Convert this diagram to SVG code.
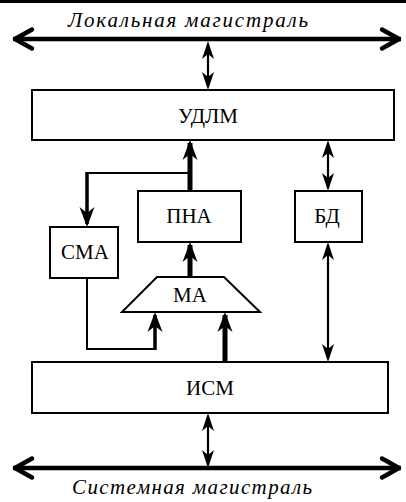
<svg xmlns="http://www.w3.org/2000/svg" width="406" height="502" viewBox="0 0 406 502">
<defs>
<style>
.box{fill:#fff;stroke:#000;stroke-width:2}
.lbl{font-family:"Liberation Serif","DejaVu Serif","Times New Roman",serif;font-size:21px;fill:#000;text-anchor:middle}
.bus{font-family:"Liberation Serif","DejaVu Serif","Times New Roman",serif;font-size:21px;font-style:italic;fill:#000;text-anchor:middle}
.thin{fill:none;stroke:#000;stroke-width:2}
.dbl{fill:none;stroke:#000;stroke-width:2.2}
.thick{fill:none;stroke:#000;stroke-width:5}
.med{fill:none;stroke:#000;stroke-width:3.5}
.busl{fill:none;stroke:#000;stroke-width:4.5}
</style>
<marker id="hThin" viewBox="-22 -8 24 16" markerWidth="24" markerHeight="16" refX="-3" refY="0" orient="auto-start-reverse" markerUnits="userSpaceOnUse">
<path d="M0,0 L-18,-6 L-13,0 L-18,6 Z" fill="#000"/>
</marker>
<marker id="hThick" viewBox="-24 -10 26 20" markerWidth="26" markerHeight="20" refX="-3" refY="0" orient="auto-start-reverse" markerUnits="userSpaceOnUse">
<path d="M0,0 L-20,-7.5 L-14,0 L-20,7.5 Z" fill="#000"/>
</marker>
<marker id="hChev" viewBox="-26 -14 30 28" markerWidth="30" markerHeight="28" refX="0" refY="0" orient="auto-start-reverse" markerUnits="userSpaceOnUse">
<path d="M-19,-9.5 L-2,0 L-19,9.5" fill="none" stroke="#000" stroke-width="4.5" stroke-linejoin="round" stroke-linecap="round"/>
</marker>
</defs>
<rect x="0" y="0" width="406" height="3" fill="#000"/>

<g id="local-bus">
<line class="busl" x1="13" y1="39" x2="401" y2="39" marker-start="url(#hChev)" marker-end="url(#hChev)"/>
<text class="bus" x="188" y="27" textLength="240" lengthAdjust="spacing">Локальная магистраль</text>
</g>
<g id="system-bus">
<line class="busl" x1="13" y1="468" x2="401" y2="468" marker-start="url(#hChev)" marker-end="url(#hChev)"/>
<text class="bus" x="192" y="494" textLength="240" lengthAdjust="spacing">Системная магистраль</text>
</g>

<g id="UDLM"><rect class="box" x="32" y="90" width="362" height="50"/><text class="lbl" x="208" y="123">УДЛМ</text></g>
<g id="PNA"><rect class="box" x="138" y="191" width="103" height="51"/><text class="lbl" x="189" y="223">ПНА</text></g>
<g id="BD"><rect class="box" x="295" y="191" width="67" height="51"/><text class="lbl" x="327" y="223">БД</text></g>
<g id="SMA"><rect class="box" x="50" y="227" width="68" height="51"/><text class="lbl" x="85" y="259">СМА</text></g>
<g id="MA"><polygon class="box" points="157,277 224,277 260,312 122,312"/><text class="lbl" x="190" y="302">МА</text></g>
<g id="ISM"><rect class="box" x="32" y="362" width="356" height="51"/><text class="lbl" x="210" y="395">ИСМ</text></g>

<g id="connectors">
<line class="dbl" x1="208" y1="44" x2="208" y2="87" marker-start="url(#hThin)" marker-end="url(#hThin)"/>
<line class="thick" x1="190" y1="192" x2="190" y2="143" marker-end="url(#hThick)"/>
<polyline class="thin" points="190,173 87,173"/>
<line class="med" x1="87" y1="172" x2="87" y2="224" marker-end="url(#hThick)"/>
<line class="dbl" x1="328" y1="143" x2="328" y2="188" marker-start="url(#hThin)" marker-end="url(#hThin)"/>
<line class="thick" x1="190" y1="278" x2="190" y2="245" marker-end="url(#hThick)"/>
<polyline class="thin" points="87,278 87,349 156,349"/>
<line class="med" x1="155" y1="350" x2="155" y2="315" marker-end="url(#hThick)"/>
<line class="thick" x1="225" y1="363" x2="225" y2="315" marker-end="url(#hThick)"/>
<line class="dbl" x1="328" y1="245" x2="328" y2="359" marker-start="url(#hThin)" marker-end="url(#hThin)"/>
<line class="dbl" x1="208" y1="416" x2="208" y2="465" marker-start="url(#hThin)" marker-end="url(#hThin)"/>
</g>
</svg>
